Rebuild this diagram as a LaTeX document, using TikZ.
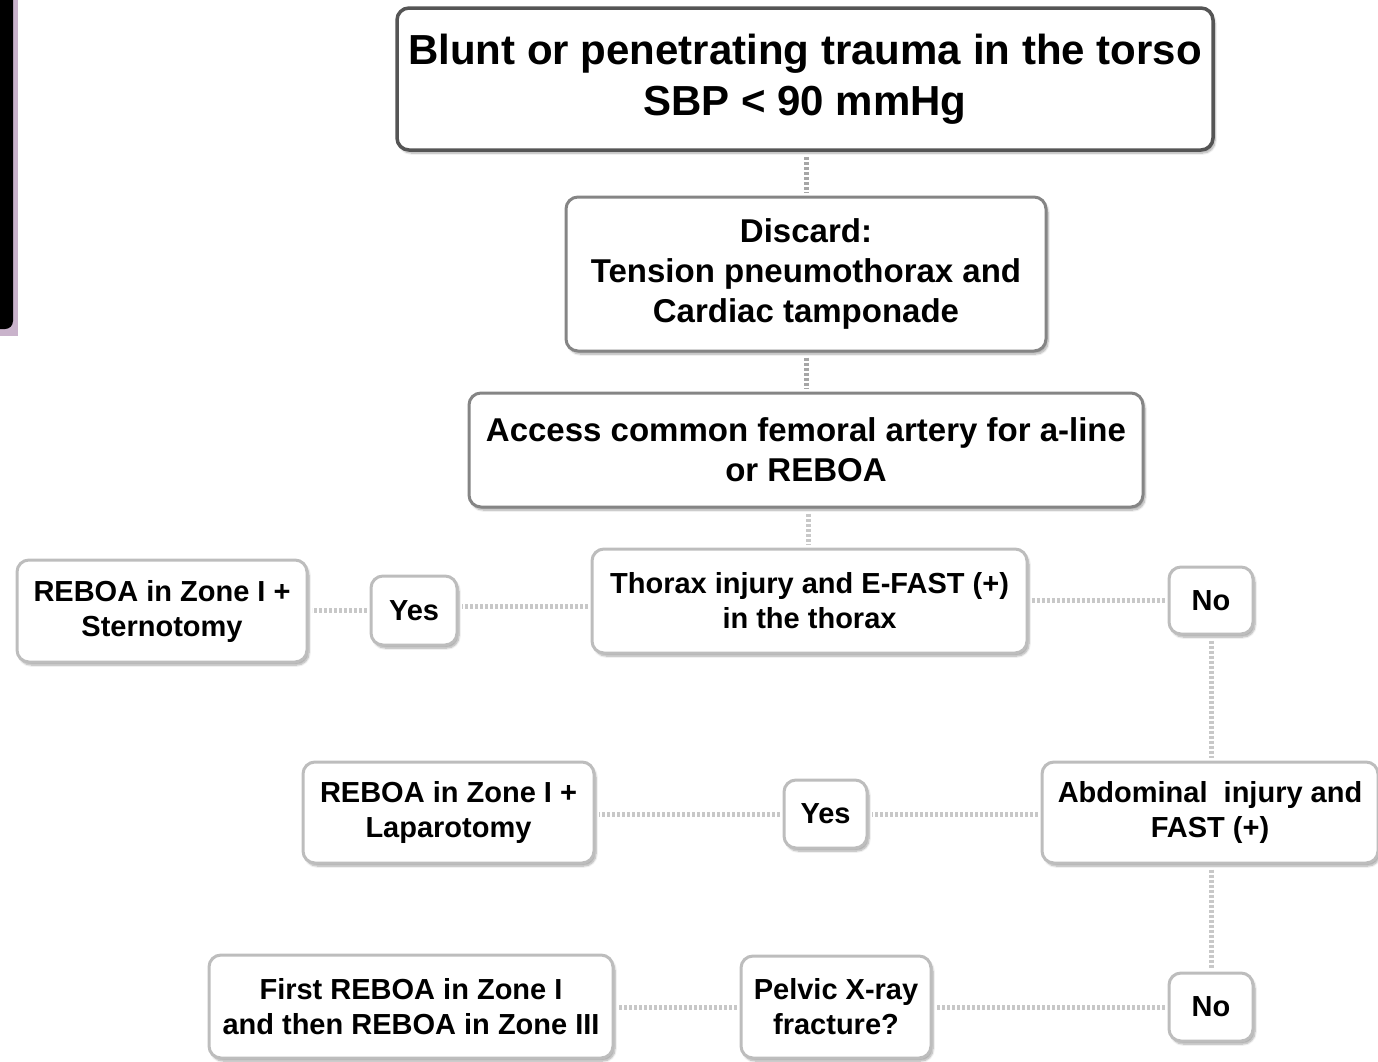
\documentclass[tikz,border=0pt]{standalone}
\usepackage{fontspec}
\setmainfont{Liberation Sans}
\usetikzlibrary{shadows.blur}
\definecolor{bdark}{HTML}{555555}
\definecolor{bmid}{HTML}{858585}
\definecolor{blight}{HTML}{BDBDBD}
\definecolor{lnk}{HTML}{A6A6A6}
\definecolor{lnklight}{HTML}{C8C8C8}
\definecolor{lavender}{HTML}{C9B3CB}
\tikzset{
  box/.style={rectangle, rounded corners=12pt, fill=white, align=center, inner sep=0pt,
    font=\bfseries, text=black,
    blur shadow={shadow xshift=2pt, shadow yshift=-3pt, shadow blur steps=8, shadow opacity=35}},
  boxdark/.style={box, draw=bdark, line width=3.5pt},
  boxmid/.style={box, draw=bmid, line width=3pt},
  boxlight/.style={box, draw=blight, line width=3pt},
  fbig/.style={font=\bfseries\fontsize{42}{51}\selectfont},
  fmid/.style={font=\bfseries\fontsize{33}{40}\selectfont},
  fsmall/.style={font=\bfseries\fontsize{29}{35}\selectfont},
  link/.style={draw=lnk, line width=5pt, dash pattern=on 3pt off 2pt},
  linklight/.style={draw=lnklight, line width=5pt, dash pattern=on 3pt off 2pt},
}
\begin{document}
\begin{tikzpicture}[x=1pt, y=-1pt]
\useasboundingbox (0,0) rectangle (1378,1061);
% partial image at left edge
\fill[lavender] (0,0) rectangle (18,336);
\fill[black, rounded corners=8pt] (-12,-12) rectangle (13,329);

\node[boxdark, fbig, minimum width=816pt, minimum height=142pt] (top) at (805,79)
  {Blunt or penetrating trauma in the torso\\SBP < 90 mmHg};
\node[boxmid, fmid, minimum width=480pt, minimum height=154pt] (discard) at (806,274)
  {Discard:\\Tension pneumothorax and\\Cardiac tamponade};
\node[boxmid, fmid, minimum width=674pt, minimum height=114pt] (access) at (806,450)
  {Access common femoral artery for a-line\\or REBOA};
\node[boxlight, fsmall, minimum width=435pt, minimum height=104pt] (thorax) at (809.5,601)
  {Thorax injury and E-FAST (+)\\in the thorax};
\node[boxlight, fsmall, minimum width=86pt, minimum height=69pt] (yes1) at (414,610.5) {Yes};
\node[boxlight, fsmall, minimum width=290pt, minimum height=102pt] (reb1) at (162,611)
  {REBOA in Zone I +\\Sternotomy};
\node[boxlight, fsmall, minimum width=84pt, minimum height=67pt] (no1) at (1211,600.5) {No};
\node[boxlight, fsmall, minimum width=336pt, minimum height=101pt] (abd) at (1210,812.5)
  {Abdominal\ \ injury and\\FAST (+)};
\node[boxlight, fsmall, minimum width=83pt, minimum height=68pt] (yes2) at (825.5,814) {Yes};
\node[boxlight, fsmall, minimum width=291pt, minimum height=101pt] (reb2) at (448.5,812.5)
  {REBOA in Zone I +\\Laparotomy};
\node[boxlight, fsmall, minimum width=84pt, minimum height=68pt] (no2) at (1211,1007) {No};
\node[boxlight, fsmall, minimum width=190pt, minimum height=102pt] (pelvic) at (836,1007)
  {Pelvic X-ray\\fracture?};
\node[boxlight, fsmall, minimum width=404pt, minimum height=103pt] (first) at (411,1006.5)
  {First REBOA in Zone I\\and then REBOA in Zone III};

% connectors
\draw[link] ([yshift=-5pt]top.south -| discard.north) -- ([yshift=3pt]discard.north);
\draw[link] ([yshift=-5pt]discard.south) -- ([yshift=3pt]access.north);
\draw[linklight] ([xshift=2pt,yshift=-5pt]access.south) -- ([xshift=2pt,yshift=3pt]access.south |- thorax.north);
\draw[linklight] ([xshift=-3pt]thorax.west |- 0,606) -- ([xshift=3pt]yes1.east |- 0,606);
\draw[linklight] ([xshift=-3pt]yes1.west) -- ([xshift=3pt]yes1.west -| reb1.east);
\draw[linklight] ([xshift=3pt]thorax.east |- no1.west) -- ([xshift=-3pt]no1.west);
\draw[linklight] ([yshift=-5pt]no1.south) -- ([yshift=3pt]no1.south |- abd.north);
\draw[linklight] ([xshift=-3pt]abd.west |- yes2.east) -- ([xshift=3pt]yes2.east);
\draw[linklight] ([xshift=-3pt]yes2.west) -- ([xshift=3pt]yes2.west -| reb2.east);
\draw[linklight] ([yshift=-5pt]abd.south -| no2.north) -- ([yshift=3pt]no2.north);
\draw[linklight] ([xshift=-3pt]no2.west) -- ([xshift=3pt]no2.west -| pelvic.east);
\draw[linklight] ([xshift=-3pt]pelvic.west) -- ([xshift=3pt]pelvic.west -| first.east);
\end{tikzpicture}
\end{document}
